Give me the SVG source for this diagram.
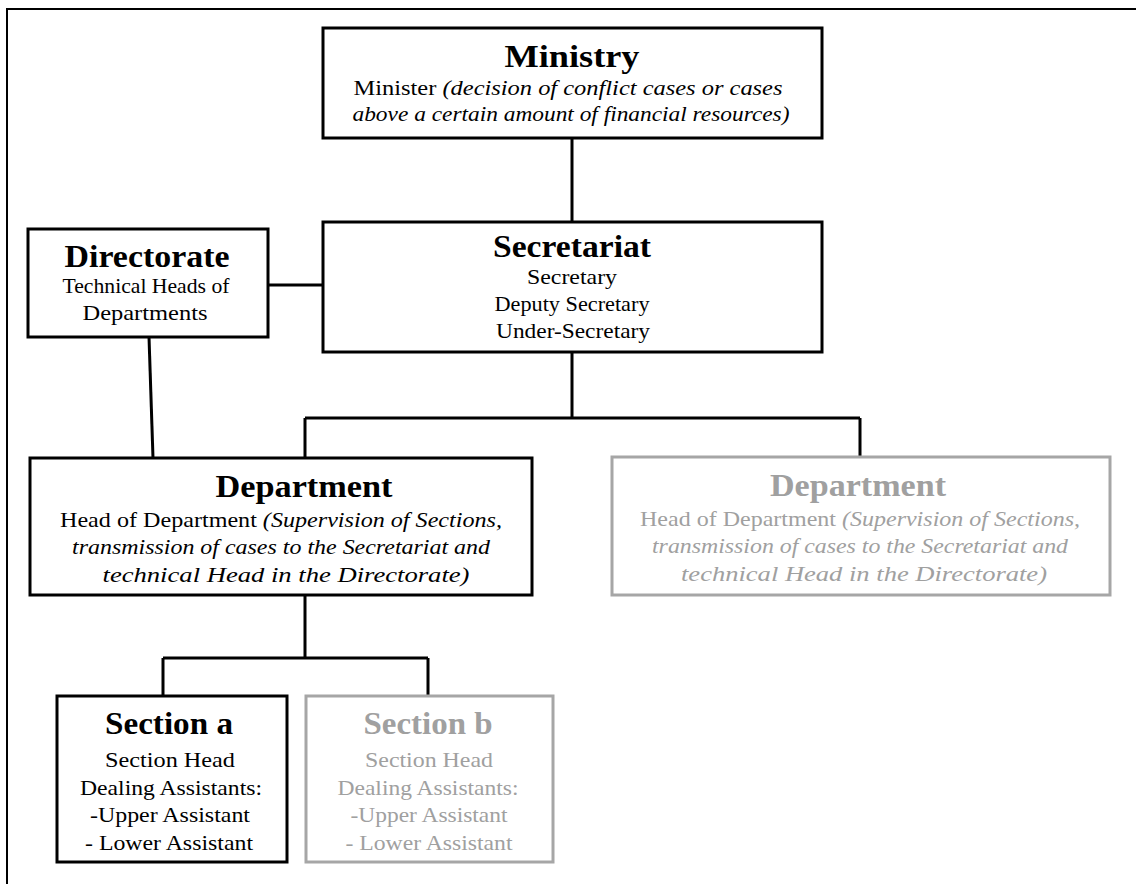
<svg xmlns="http://www.w3.org/2000/svg" width="1136" height="884" viewBox="0 0 1136 884">
  <style>
    .frame { fill: none; stroke: #000; stroke-width: 2; }
    .box { fill: #fff; stroke: #000; stroke-width: 3; }
    .box.dim { stroke: #a6a6a6; }
    .link { fill: none; stroke: #000; stroke-width: 3; }
    text { font-family: "Liberation Serif", "Times New Roman", serif; text-anchor: middle; fill: #000; }
    .title { font-size: 32px; font-weight: bold; }
    .body { font-size: 22px; }
    .note { font-style: italic; }
    .dim text, text.dim { fill: #a0a0a0; }
  </style>

  <rect x="0" y="0" width="1136" height="884" fill="#fff"/>
  <!-- page frame -->
  <path class="frame" d="M7,884 V9 H1136"/>

  <!-- connectors -->
  <g id="connectors">
    <path class="link" d="M572,138 V222"/>
    <path class="link" d="M268,285 H323"/>
    <path class="link" d="M149,337 L153,458"/>
    <path class="link" d="M572,352 V418 M305,418 H860 M305,418 V458 M860,418 V457"/>
    <path class="link" d="M305,595 V658 M163,658 H428 M163,658 V696 M428,658 V696"/>
  </g>

  <g id="ministry">
    <rect class="box" x="323" y="28" width="499" height="110"/>
    <text class="title" x="572" y="67" textLength="135" lengthAdjust="spacingAndGlyphs">Ministry</text>
    <text class="body" x="568" y="95" textLength="429" lengthAdjust="spacingAndGlyphs">Minister <tspan class="note">(decision of  conflict cases or cases</tspan></text>
    <text class="body note" x="571" y="121" textLength="437" lengthAdjust="spacingAndGlyphs">above a certain amount of financial resources)</text>
  </g>

  <g id="secretariat">
    <rect class="box" x="323" y="222" width="499" height="130"/>
    <text class="title" x="572" y="257" textLength="158" lengthAdjust="spacingAndGlyphs">Secretariat</text>
    <text class="body" x="572" y="284" textLength="90" lengthAdjust="spacingAndGlyphs">Secretary</text>
    <text class="body" x="572" y="311" textLength="155" lengthAdjust="spacingAndGlyphs">Deputy Secretary</text>
    <text class="body" x="573" y="338" textLength="154" lengthAdjust="spacingAndGlyphs">Under-Secretary</text>
  </g>

  <g id="directorate">
    <rect class="box" x="28" y="229" width="240" height="108"/>
    <text class="title" x="147" y="267" textLength="165" lengthAdjust="spacingAndGlyphs">Directorate</text>
    <text class="body" x="146" y="293" textLength="167" lengthAdjust="spacingAndGlyphs">Technical Heads of</text>
    <text class="body" x="145" y="320" textLength="125" lengthAdjust="spacingAndGlyphs">Departments</text>
  </g>

  <g id="department-1">
    <rect class="box" x="30" y="458" width="502" height="137"/>
    <text class="title" x="304" y="497" textLength="177" lengthAdjust="spacingAndGlyphs">Department</text>
    <text class="body" x="281" y="527" textLength="442" lengthAdjust="spacingAndGlyphs">Head of Department <tspan class="note">(Supervision of Sections,</tspan></text>
    <text class="body note" x="281" y="554" textLength="418" lengthAdjust="spacingAndGlyphs">transmission of cases to the Secretariat and</text>
    <text class="body note" x="286" y="582" textLength="367" lengthAdjust="spacingAndGlyphs">technical Head in the Directorate)</text>
  </g>

  <g id="department-2" class="dim">
    <rect class="box dim" x="612" y="457" width="498" height="138"/>
    <text class="title" x="858" y="496" textLength="176" lengthAdjust="spacingAndGlyphs">Department</text>
    <text class="body" x="860" y="526" textLength="440" lengthAdjust="spacingAndGlyphs">Head of Department <tspan class="note">(Supervision of Sections,</tspan></text>
    <text class="body note" x="860" y="553" textLength="416" lengthAdjust="spacingAndGlyphs">transmission of cases to the Secretariat and</text>
    <text class="body note" x="864" y="581" textLength="366" lengthAdjust="spacingAndGlyphs">technical Head in the Directorate)</text>
  </g>

  <g id="section-a">
    <rect class="box" x="57" y="696" width="230" height="166"/>
    <text class="title" x="169" y="734" textLength="128" lengthAdjust="spacingAndGlyphs">Section a</text>
    <text class="body" x="170" y="767" textLength="130" lengthAdjust="spacingAndGlyphs">Section Head</text>
    <text class="body" x="171" y="795" textLength="182" lengthAdjust="spacingAndGlyphs">Dealing Assistants:</text>
    <text class="body" x="170" y="822" textLength="160" lengthAdjust="spacingAndGlyphs">-Upper Assistant</text>
    <text class="body" x="169" y="850" textLength="168" lengthAdjust="spacingAndGlyphs">- Lower Assistant</text>
  </g>

  <g id="section-b" class="dim">
    <rect class="box dim" x="306" y="696" width="247" height="166"/>
    <text class="title" x="428" y="734" textLength="129" lengthAdjust="spacingAndGlyphs">Section b</text>
    <text class="body" x="429" y="767" textLength="128" lengthAdjust="spacingAndGlyphs">Section Head</text>
    <text class="body" x="428" y="795" textLength="181" lengthAdjust="spacingAndGlyphs">Dealing Assistants:</text>
    <text class="body" x="429" y="822" textLength="157" lengthAdjust="spacingAndGlyphs">-Upper Assistant</text>
    <text class="body" x="429" y="850" textLength="167" lengthAdjust="spacingAndGlyphs">- Lower Assistant</text>
  </g>
</svg>
